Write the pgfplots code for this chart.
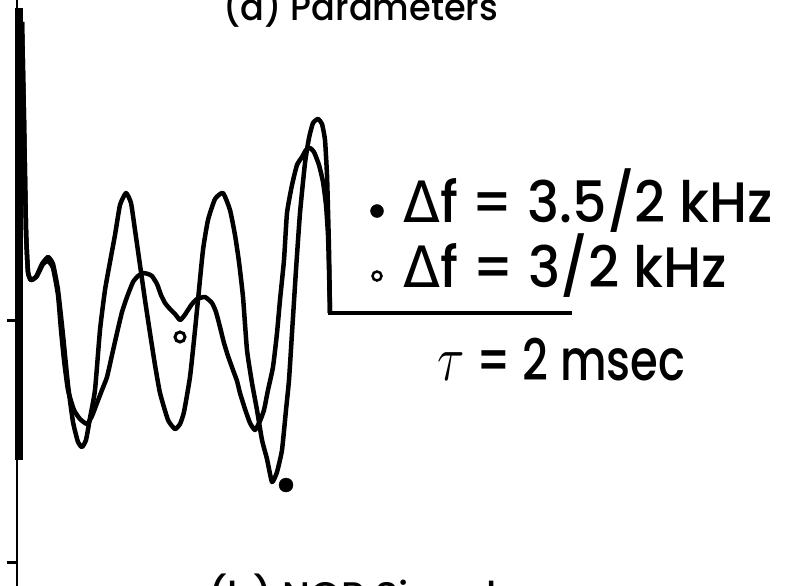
\documentclass[border=0pt]{standalone}
\usepackage{pgfplots}
\pgfplotsset{compat=1.18}
\usepackage{fontspec}
\setmainfont{Poppins Medium}
\newfontfamily\dejavu{DejaVu Sans}
\usepackage{graphicx}

% Oscilloscope traces, coordinates in screen units (y grows downward)
\pgfplotstableread{
x y
22 22
24 120
26 230
28 272
31 280
36 277
42 264
48 257
53 264
58 290
63 335
68 385
73 422
78 442
82 447
86 440
90 418
95 390
100 330
105 290
110 262
115 235
120 205
126 193
131 203
135 230
140 265
145 300
150 333
155 365
160 393
168 420
175 429
180 424
184 412
190 377
194 340
198 300
203 250
208 220
215 199
223 193
230 210
235 235
239 262
243 297
247 350
252 383
257 410
262 440
267 459
272 482
277 472
282 450
286 410
289 380
292 333
296 270
300 213
305 163
309 138
313 123
318 119
322 124
325 140
327 175
328 210
329 250
330 313
}\traceA

\pgfplotstableread{
x y
22 22
24 120
26 230
28 272
31 280
37 276
43 264
48 261
53 268
58 295
61 330
64 360
68 390
74 410
80 419
87 424
92 416
97 403
102 390
107 377
112 355
117 333
122 312
127 297
133 282
138 276
143 273
148 274
152 276
157 284
161 295
165 303
170 309
175 314
180 320
184 316
188 310
192 304
197 299
205 297
212 303
216 312
220 327
224 343
228 356
233 370
237 381
240 393
245 409
250 423
255 430
260 421
264 410
268 390
273 367
277 333
280 300
284 260
287 213
292 185
297 165
302 157
306 150
310 148
314 152
319 165
323 182
326 205
328 235
329 270
330 313
}\traceB

\begin{document}
\begin{tikzpicture}
\begin{axis}[
  at={(0,0)}, anchor=south west,
  scale only axis, width=785pt, height=586pt,
  xmin=0, xmax=785, ymin=0, ymax=586, y dir=reverse,
  axis lines=none, clip=false,
]
% vertical axis with its tick marks
\addplot[black, line width=2.6pt] coordinates {(17,0) (17,590)};
\addplot[black, line width=8pt] coordinates {(19,8) (19,460)};
\addplot[black, line width=3pt] coordinates {(7,320) (17,320)};
\addplot[black, line width=3pt] coordinates {(7,562) (17,562)};

% the two traces and the baseline they settle to
\addplot[black, line width=4.5pt, line join=round, smooth, tension=0.3] table {\traceA};
\addplot[black, line width=4.5pt, line join=round, smooth, tension=0.3] table {\traceB};
\addplot[black, line width=4.5pt] coordinates {(328,313) (572,313)};

% markers on the traces
\addplot[only marks, mark=*, mark size=7pt, black] coordinates {(286,485)};
\addplot[only marks, mark=o, mark size=5pt, black, line width=3pt] coordinates {(180,337)};

% legend markers
\addplot[only marks, mark=*, mark size=6.5pt, black] coordinates {(377,211)};
\addplot[only marks, mark=o, mark size=4.5pt, black, line width=2.5pt] coordinates {(377,276)};

\node[anchor=base west, inner sep=0pt] at (axis cs:403,222)
  {\resizebox{370pt}{\height}{\fontsize{57}{60}\selectfont{\dejavu Δ}f = 3.5/2 kHz}};
\node[anchor=base west, inner sep=0pt] at (axis cs:403,287)
  {\resizebox{324pt}{\height}{\fontsize{57}{60}\selectfont{\dejavu Δ}f = 3/2 kHz}};
\node[anchor=base west, inner sep=0pt] at (axis cs:437,380)
  {\resizebox{248pt}{\height}{\fontsize{57}{60}\selectfont\scalebox{2.6}{$\tau$} = 2 msec}};

\node[anchor=base west, inner sep=0pt] at (axis cs:223,20)
  {\resizebox{275pt}{\height}{\fontsize{37}{42}\selectfont (a) Parameters}};
\node[anchor=north west, inner sep=0pt] at (axis cs:208,574)
  {\resizebox{289pt}{\height}{\fontsize{37}{42}\selectfont (b) NOR Signal}};
\end{axis}
\pgfresetboundingbox
\path[use as bounding box] (0,0) rectangle (785pt,586pt);
\end{tikzpicture}
\end{document}
